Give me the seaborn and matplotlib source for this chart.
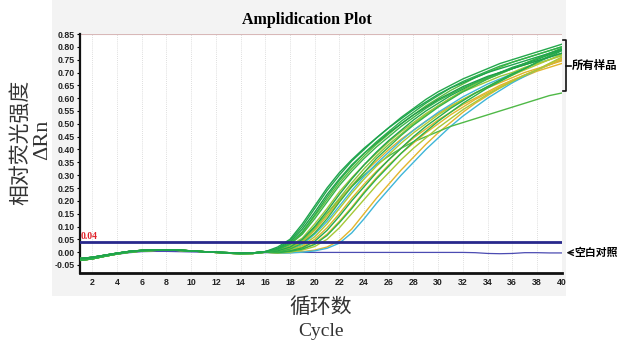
import numpy as np
import pandas as pd
import matplotlib
matplotlib.use("Agg")
import matplotlib.pyplot as plt
import seaborn as sns
from matplotlib.patches import Rectangle

# ---------------- data ----------------
cycles = list(range(1, 41))
amp_cycles = list(range(17, 41))

# baseline region (cycles 1-16), two observed variants of the flat band
baseline_a = [-0.025, -0.020, -0.012, -0.004, 0.003, 0.007, 0.009, 0.009,
              0.008, 0.005, 0.002, 0.000, -0.002, -0.004, -0.003, 0.002]
baseline_b = [-0.032, -0.026, -0.016, -0.007, 0.000, 0.005, 0.007, 0.008,
              0.007, 0.005, 0.002, -0.001, -0.004, -0.006, -0.005, 0.000]

sample_names = ["Ylate", "Clate", "O1", "Y1", "Y2", "Y3", "C1", "YG1", "YG2",
                "YG3", "YG4", "G10", "G9", "G7", "G6", "G5", "G4", "G8",
                "G3", "G2", "G1"]
sample_baseline = ["b", "b", "a", "b", "a", "b", "a", "a", "b",
                   "a", "b", "a", "b", "a", "b", "a", "b", "a",
                   "b", "a", "a"]
sample_colors = ["#e3b52c", "#3fb6d8", "#4fb947", "#e0b12a", "#dcb42e", "#e2b830",
                 "#41b8d6", "#9cc63b", "#b0c934", "#8fc43d", "#a6c837", "#5dbb3f",
                 "#2db24b", "#27ab4c", "#34b449", "#22a64d", "#3ab548", "#1f9e4a",
                 "#2cb04b", "#24a84c", "#1ea44e"]

# fluorescence, cycles 17-40, one row per sample (same order as names)
amplification = [
    [-0.004, -0.002, 0.002, 0.008, 0.020, 0.045, 0.090, 0.150, 0.210, 0.265, 0.320, 0.370,
     0.420, 0.465, 0.505, 0.545, 0.580, 0.610, 0.640, 0.665, 0.685, 0.705, 0.720, 0.735],
    [-0.004, -0.003, 0.000, 0.005, 0.015, 0.035, 0.075, 0.130, 0.190, 0.245, 0.300, 0.350,
     0.400, 0.445, 0.490, 0.530, 0.565, 0.600, 0.630, 0.660, 0.685, 0.710, 0.730, 0.750],
    [0.000, 0.015, 0.045, 0.095, 0.150, 0.205, 0.255, 0.300, 0.340, 0.375, 0.405, 0.430,
     0.450, 0.470, 0.490, 0.505, 0.520, 0.535, 0.550, 0.565, 0.580, 0.595, 0.610, 0.620],
    [0.000, 0.015, 0.040, 0.085, 0.140, 0.200, 0.260, 0.310, 0.355, 0.400, 0.440, 0.475,
     0.510, 0.540, 0.570, 0.595, 0.620, 0.640, 0.660, 0.680, 0.700, 0.715, 0.730, 0.745],
    [0.000, 0.006, 0.020, 0.050, 0.095, 0.150, 0.210, 0.265, 0.315, 0.360, 0.405, 0.445,
     0.480, 0.515, 0.545, 0.575, 0.600, 0.625, 0.650, 0.670, 0.690, 0.710, 0.730, 0.750],
    [-0.002, 0.003, 0.013, 0.033, 0.070, 0.120, 0.175, 0.235, 0.290, 0.340, 0.385, 0.425,
     0.465, 0.500, 0.535, 0.565, 0.595, 0.620, 0.645, 0.670, 0.690, 0.710, 0.735, 0.755],
    [0.000, 0.010, 0.030, 0.070, 0.120, 0.180, 0.240, 0.295, 0.345, 0.390, 0.435, 0.475,
     0.510, 0.545, 0.575, 0.605, 0.630, 0.655, 0.675, 0.695, 0.715, 0.735, 0.750, 0.770],
    [0.005, 0.025, 0.055, 0.110, 0.170, 0.235, 0.290, 0.340, 0.385, 0.430, 0.470, 0.505,
     0.540, 0.570, 0.600, 0.625, 0.645, 0.665, 0.685, 0.700, 0.720, 0.735, 0.750, 0.765],
    [0.000, 0.008, 0.025, 0.060, 0.110, 0.170, 0.230, 0.285, 0.335, 0.380, 0.425, 0.465,
     0.500, 0.535, 0.565, 0.595, 0.620, 0.645, 0.670, 0.690, 0.710, 0.730, 0.750, 0.770],
    [0.003, 0.018, 0.045, 0.090, 0.150, 0.210, 0.270, 0.325, 0.375, 0.420, 0.460, 0.500,
     0.535, 0.570, 0.600, 0.630, 0.655, 0.675, 0.695, 0.715, 0.735, 0.755, 0.770, 0.790],
    [-0.003, 0.000, 0.008, 0.022, 0.050, 0.095, 0.150, 0.205, 0.260, 0.310, 0.360, 0.405,
     0.445, 0.485, 0.520, 0.555, 0.585, 0.615, 0.640, 0.665, 0.690, 0.710, 0.735, 0.760],
    [0.008, 0.032, 0.075, 0.140, 0.205, 0.270, 0.325, 0.375, 0.420, 0.460, 0.500, 0.535,
     0.570, 0.600, 0.630, 0.655, 0.680, 0.700, 0.720, 0.740, 0.755, 0.770, 0.785, 0.800],
    [-0.002, 0.003, 0.012, 0.030, 0.065, 0.115, 0.170, 0.230, 0.285, 0.335, 0.385, 0.430,
     0.470, 0.510, 0.545, 0.580, 0.610, 0.640, 0.665, 0.690, 0.715, 0.740, 0.765, 0.790],
    [0.000, 0.005, 0.017, 0.042, 0.085, 0.140, 0.200, 0.255, 0.310, 0.360, 0.405, 0.450,
     0.490, 0.525, 0.560, 0.590, 0.620, 0.645, 0.670, 0.695, 0.715, 0.740, 0.760, 0.785],
    [0.000, 0.012, 0.035, 0.075, 0.130, 0.195, 0.255, 0.310, 0.365, 0.410, 0.455, 0.495,
     0.530, 0.565, 0.595, 0.625, 0.650, 0.675, 0.695, 0.715, 0.735, 0.755, 0.775, 0.795],
    [0.005, 0.020, 0.050, 0.100, 0.160, 0.225, 0.285, 0.340, 0.390, 0.435, 0.475, 0.515,
     0.550, 0.580, 0.610, 0.635, 0.660, 0.680, 0.700, 0.720, 0.735, 0.750, 0.770, 0.785],
    [0.010, 0.030, 0.070, 0.130, 0.195, 0.260, 0.315, 0.365, 0.410, 0.450, 0.490, 0.525,
     0.560, 0.590, 0.615, 0.640, 0.660, 0.680, 0.700, 0.715, 0.730, 0.745, 0.760, 0.775],
    [0.012, 0.040, 0.090, 0.155, 0.225, 0.285, 0.340, 0.385, 0.425, 0.465, 0.500, 0.535,
     0.565, 0.595, 0.620, 0.645, 0.665, 0.685, 0.700, 0.715, 0.730, 0.745, 0.760, 0.775],
    [0.010, 0.035, 0.080, 0.145, 0.215, 0.280, 0.335, 0.385, 0.430, 0.470, 0.510, 0.545,
     0.580, 0.610, 0.640, 0.665, 0.685, 0.705, 0.725, 0.740, 0.755, 0.770, 0.785, 0.800],
    [0.015, 0.045, 0.100, 0.170, 0.240, 0.300, 0.355, 0.400, 0.445, 0.485, 0.525, 0.560,
     0.595, 0.625, 0.650, 0.675, 0.695, 0.715, 0.735, 0.750, 0.765, 0.780, 0.795, 0.810],
    [0.020, 0.050, 0.110, 0.180, 0.250, 0.310, 0.360, 0.405, 0.445, 0.485, 0.520, 0.555,
     0.585, 0.615, 0.640, 0.660, 0.680, 0.700, 0.715, 0.730, 0.745, 0.760, 0.775, 0.790],
]

blank_control = [-0.030, -0.025, -0.016, -0.008, -0.002, 0.002, 0.003, 0.003, 0.002, 0.001,
                 0.000, -0.001, -0.002, -0.003, -0.003, -0.002, -0.001, -0.001, -0.001, -0.001,
                 -0.001, -0.001, -0.001, -0.001, -0.001, -0.001, -0.001, -0.001, -0.001, -0.001,
                 -0.001, -0.001, -0.002, -0.005, -0.006, -0.005, -0.002, -0.002, -0.003, -0.003]

threshold = 0.04
x_ticks = list(range(2, 41, 2))
y_ticks = [-0.05, 0.00, 0.05, 0.10, 0.15, 0.20, 0.25, 0.30, 0.35, 0.40,
           0.45, 0.50, 0.55, 0.60, 0.65, 0.70, 0.75, 0.80, 0.85]
y_grid = [-0.05, 0.05, 0.15, 0.25, 0.35, 0.45, 0.55, 0.65, 0.75, 0.85]

# ---------------- build long table ----------------
baselines = {"a": baseline_a, "b": baseline_b}
rows = []
for name, base, amp in zip(sample_names, sample_baseline, amplification):
    vals = baselines[base] + amp
    for c, v in zip(cycles, vals):
        rows.append({"sample": name, "cycle": c, "rn": v})
df = pd.DataFrame(rows)
palette = dict(zip(sample_names, sample_colors))

# ---------------- figure ----------------
fig = plt.figure(figsize=(6.21, 3.41), dpi=100)
fig.patches.append(Rectangle((52 / 621, 1 - 296 / 341), (566 - 52) / 621, 296 / 341,
                             transform=fig.transFigure, facecolor="#f3f3f3",
                             edgecolor="none", zorder=-10))
ax = fig.add_axes([80 / 621, 1 - 272.7 / 341, (561.7 - 80) / 621, (272.7 - 34) / 341])
ax.set_facecolor("white")

sns.lineplot(data=df, x="cycle", y="rn", hue="sample", hue_order=sample_names,
             palette=palette, legend=False, linewidth=1.0, ax=ax, zorder=3)
sns.lineplot(x=cycles, y=blank_control, color="#4b4bb2", linewidth=0.9, ax=ax, zorder=2)
ax.axhline(threshold, color="#28288c", linewidth=2.0, zorder=4)

ax.set_xlim(1, 40)
ax.set_ylim(-0.08, 0.85)
ax.set_xticks(x_ticks)
ax.set_yticks(y_ticks)
ax.set_yticklabels([f"{v:.2f}" for v in y_ticks])
ax.set_yticks(y_grid, minor=True)

for lab in ax.get_xticklabels() + ax.get_yticklabels():
    lab.set_fontfamily("Liberation Sans")
    lab.set_fontweight("bold")
    lab.set_fontsize(6.3)
    lab.set_color("#222222")
ax.tick_params(axis="x", length=0, pad=4)
ax.tick_params(axis="y", which="major", length=2, width=0.8, pad=2)
ax.tick_params(axis="y", which="minor", length=0)

ax.grid(False)
ax.xaxis.grid(True, color="#d4d4d4", linestyle=(0, (1, 1.5)), linewidth=0.6)
ax.yaxis.grid(True, which="minor", color="#d4d4d4", linestyle=(0, (1, 1.5)), linewidth=0.6)
ax.axhline(0.85, color="#d8b8b8", linewidth=0.8, zorder=1)

for s in ["top", "right"]:
    ax.spines[s].set_visible(False)
ax.spines["left"].set_linewidth(1.6)
ax.spines["bottom"].set_linewidth(2.0)
ax.spines["left"].set_color("#111111")
ax.spines["bottom"].set_color("#111111")
ax.set_xlabel("")
ax.set_ylabel("")

# threshold value label
ax.text(1.05, threshold + 0.004, "0.04", color="#e0242b", fontsize=7,
        fontfamily="Liberation Serif", fontweight="bold", va="bottom", ha="left")

# title and axis labels
fig.text(307 / 621, 1 - 20 / 341, "Amplidication Plot", ha="center", va="center",
         fontsize=11.5, fontweight="bold", fontfamily="Liberation Serif")
fig.text(20 / 621, 1 - 142 / 341, "相对荧光强度", rotation=90, ha="center", va="center",
         fontsize=15, fontfamily=["Noto Sans CJK SC", "DejaVu Sans"], color="#333333",
         fontweight="light")
fig.text(43 / 621, 1 - 140 / 341, "ΔRn", rotation=90, ha="center", va="center",
         fontsize=16, fontfamily="Liberation Serif", color="#333333")
fig.text(321 / 621, 1 - 307 / 341, "循环数", ha="center", va="center",
         fontsize=15, fontfamily=["Noto Sans CJK SC", "DejaVu Sans"], color="#333333",
         fontweight="light")
fig.text(321 / 621, 1 - 331 / 341, "Cycle", ha="center", va="center",
         fontsize=14, fontfamily="Liberation Serif", color="#333333")

# right-side annotations
bx = 40.33
ax.plot([40.12, bx, bx, 40.12], [0.826, 0.826, 0.627, 0.627], color="#111111",
        linewidth=1.2, clip_on=False)
ax.plot([bx, 40.72], [0.726, 0.726], color="#111111", linewidth=1.2, clip_on=False)
ax.text(40.85, 0.726, "所有样品", ha="left", va="center", fontsize=8.2,
        fontweight="bold", fontfamily=["Noto Sans CJK SC", "DejaVu Sans"])
ax.annotate("", xy=(40.38, -0.002), xytext=(40.95, -0.002),
            arrowprops=dict(arrowstyle="->", color="#111111", lw=1.0,
                            shrinkA=0, shrinkB=0), annotation_clip=False)
ax.text(41.0, -0.002, "空白对照", ha="left", va="center", fontsize=7.8,
        fontweight="bold", fontfamily=["Noto Sans CJK SC", "DejaVu Sans"], clip_on=False)

fig.savefig("out.png", dpi=100)
